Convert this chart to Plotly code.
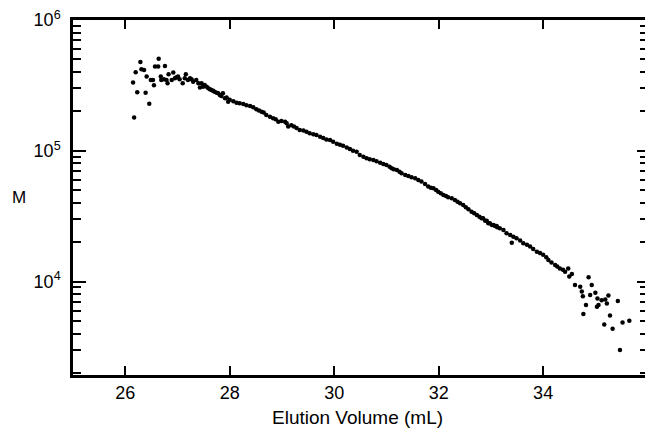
import plotly.graph_objects as go

# Elution volume (mL) and molar mass M
vol = [26.15, 26.17, 26.20, 26.23, 26.29, 26.31, 26.36, 26.39, 26.41, 26.46,
       26.49, 26.53, 26.55, 26.57, 26.63, 26.64, 26.68, 26.69, 26.74, 26.76,
       26.79, 26.81, 26.83, 26.89, 26.92, 26.95, 26.98, 27.01, 27.04, 27.10,
       27.14, 27.16, 27.20, 27.24, 27.27, 27.30, 27.36, 27.40, 27.43, 27.46,
       27.49, 27.52, 27.56, 27.59, 27.62, 27.65, 27.68, 27.71, 27.75, 27.78,
       27.81, 27.84, 27.87, 27.91, 27.94, 27.97, 28.00, 28.07, 28.13, 28.19,
       28.26, 28.32, 28.39, 28.45, 28.51, 28.56, 28.61, 28.65, 28.70, 28.77,
       28.83, 28.88, 28.93, 28.99, 29.06, 29.09, 29.12, 29.18, 29.23, 29.28,
       29.34, 29.41, 29.47, 29.53, 29.60, 29.66, 29.73, 29.79, 29.85, 29.92,
       29.98, 30.05, 30.11, 30.17, 30.24, 30.30, 30.36, 30.43, 30.49, 30.56,
       30.62, 30.68, 30.75, 30.81, 30.88, 30.94, 31.00, 31.06, 31.10, 31.14,
       31.20, 31.25, 31.29, 31.36, 31.42, 31.48, 31.55, 31.61, 31.67, 31.74,
       31.80, 31.85, 31.90, 31.95, 31.99, 32.04, 32.09, 32.14, 32.18, 32.25,
       32.31, 32.36, 32.41, 32.47, 32.52, 32.57, 32.63, 32.68, 32.73, 32.78,
       32.82, 32.85, 32.89, 32.92, 32.95, 32.98, 33.02, 33.05, 33.08, 33.11,
       33.12, 33.17, 33.24, 33.30, 33.37, 33.40, 33.43, 33.49, 33.56, 33.62,
       33.69, 33.75, 33.81, 33.88, 33.94, 34.00, 34.06, 34.10, 34.16, 34.23,
       34.27, 34.32, 34.38, 34.42, 34.48, 34.50, 34.55, 34.61, 34.71, 34.74,
       34.76, 34.77, 34.82, 34.87, 34.90, 34.93, 35.00, 35.03, 35.04, 35.06,
       35.12, 35.17, 35.19, 35.22, 35.25, 35.28, 35.33, 35.43, 35.47, 35.52,
       35.65]
molar_mass = [332000, 180000, 398000, 280000, 477000, 420000, 415000, 278000, 369000, 229000,
              347000, 347000, 317000, 440000, 440000, 506000, 369000, 347000, 352000, 445000,
              347000, 328000, 385000, 347000, 396000, 358000, 365000, 369000, 352000, 328000,
              358000, 385000, 347000, 358000, 352000, 337000, 347000, 328000, 304000, 328000,
              309000, 318000, 309000, 301000, 295000, 292000, 288000, 283000, 278000, 275000,
              267000, 262000, 275000, 252000, 256000, 237000, 245000, 239000, 233000, 231000,
              228000, 223000, 220000, 215000, 208000, 203000, 199000, 196000, 188000, 182000,
              177000, 174000, 167000, 169000, 167000, 162000, 153000, 157000, 153000, 149000,
              144000, 143000, 140000, 136000, 134000, 132000, 128000, 125000, 122000, 121000,
              117000, 113000, 111000, 109000, 106000, 103000, 100000, 98400, 92900, 90000,
              87700, 86100, 85100, 83200, 81100, 79300, 77800, 75500, 73500, 72200,
              71300, 69200, 67300, 65300, 64100, 62700, 61700, 59800, 58100, 55700,
              53200, 52200, 51600, 50100, 48600, 47300, 45900, 45100, 44100, 43400,
              42100, 40800, 39700, 38500, 37000, 35700, 34200, 33300, 32300, 31300,
              30500, 30500, 29200, 29200, 27900, 27900, 27100, 27100, 26600, 26600,
              26000, 25600, 24800, 23400, 22700, 19800, 22000, 21400, 20600, 19600,
              19100, 18500, 17700, 16900, 16500, 16000, 15300, 14600, 14000, 13400,
              13000, 12600, 12300, 11900, 12600, 10900, 11400, 9400, 9100, 8400,
              7700, 5650, 6600, 10800, 7900, 9400, 8200, 6400, 7400, 6600,
              7200, 4700, 7300, 6800, 7800, 5500, 4350, 7100, 3000, 4850,
              5000]

x_ticks = [26, 28, 30, 32, 34]
y_ticks = [1e4, 1e5, 1e6]
y_tick_labels = ["10<sup>4</sup>", "10<sup>5</sup>", "10<sup>6</sup>"]
y_minor = [m * 10 ** e for e in (3, 4, 5) for m in range(2, 10)]

FONT = "Liberation Sans, Arial, sans-serif"

fig = go.Figure()
fig.add_trace(go.Scatter(x=vol, y=molar_mass, mode="markers",
                         marker=dict(color="black", size=4.5, line=dict(width=0)),
                         showlegend=False, hoverinfo="skip"))
# invisible copy on the right-hand axis so its ticks are drawn
fig.add_trace(go.Scatter(x=vol, y=molar_mass, mode="markers", yaxis="y2",
                         marker=dict(color="black", size=1, opacity=0),
                         showlegend=False, hoverinfo="skip"))

yr = [3.285, 6.0]
fig.update_layout(
    width=646, height=430,
    margin=dict(l=73, r=1, t=20, b=55),
    paper_bgcolor="white", plot_bgcolor="white",
    font=dict(family=FONT, color="black"),
    xaxis=dict(range=[25, 35.95], tickmode="array", tickvals=x_ticks,
               ticks="inside", ticklen=9, tickwidth=2, tickcolor="black",
               showline=True, linewidth=2.5, linecolor="black", mirror="ticks",
               showgrid=False, zeroline=False,
               tickfont=dict(size=18, family=FONT)),
    yaxis=dict(type="log", range=yr, tickmode="array", tickvals=y_ticks,
               ticktext=y_tick_labels, ticks="inside", ticklen=13, tickwidth=2,
               tickcolor="black", showline=True, linewidth=2.5, linecolor="black",
               showgrid=False, zeroline=False, ticklabelstandoff=6,
               tickfont=dict(size=18, family=FONT),
               minor=dict(tickmode="array", tickvals=y_minor, ticks="inside",
                          ticklen=8, tickwidth=2, tickcolor="black", showgrid=False)),
    yaxis2=dict(type="log", range=yr, overlaying="y", side="right",
                tickmode="array", tickvals=y_ticks, showticklabels=False,
                ticks="inside", ticklen=8, tickwidth=2, tickcolor="black",
                showline=False, showgrid=False, zeroline=False,
                minor=dict(tickmode="array", tickvals=y_minor, ticks="inside",
                           ticklen=5, tickwidth=2, tickcolor="black", showgrid=False)),
    annotations=[
        dict(text="M", x=-0.094, y=0.5, xref="paper", yref="paper",
             showarrow=False, xanchor="center", yanchor="middle",
             font=dict(size=17, family=FONT)),
        dict(text="Elution Volume (mL)", x=0.498, y=-0.12, xref="paper", yref="paper",
             showarrow=False, xanchor="center", yanchor="middle",
             font=dict(size=19, family=FONT)),
    ],
)

fig.write_html("out.html", config={"displayModeBar": False},
               post_script="document.body.style.margin='0';document.body.style.overflow='hidden';")
